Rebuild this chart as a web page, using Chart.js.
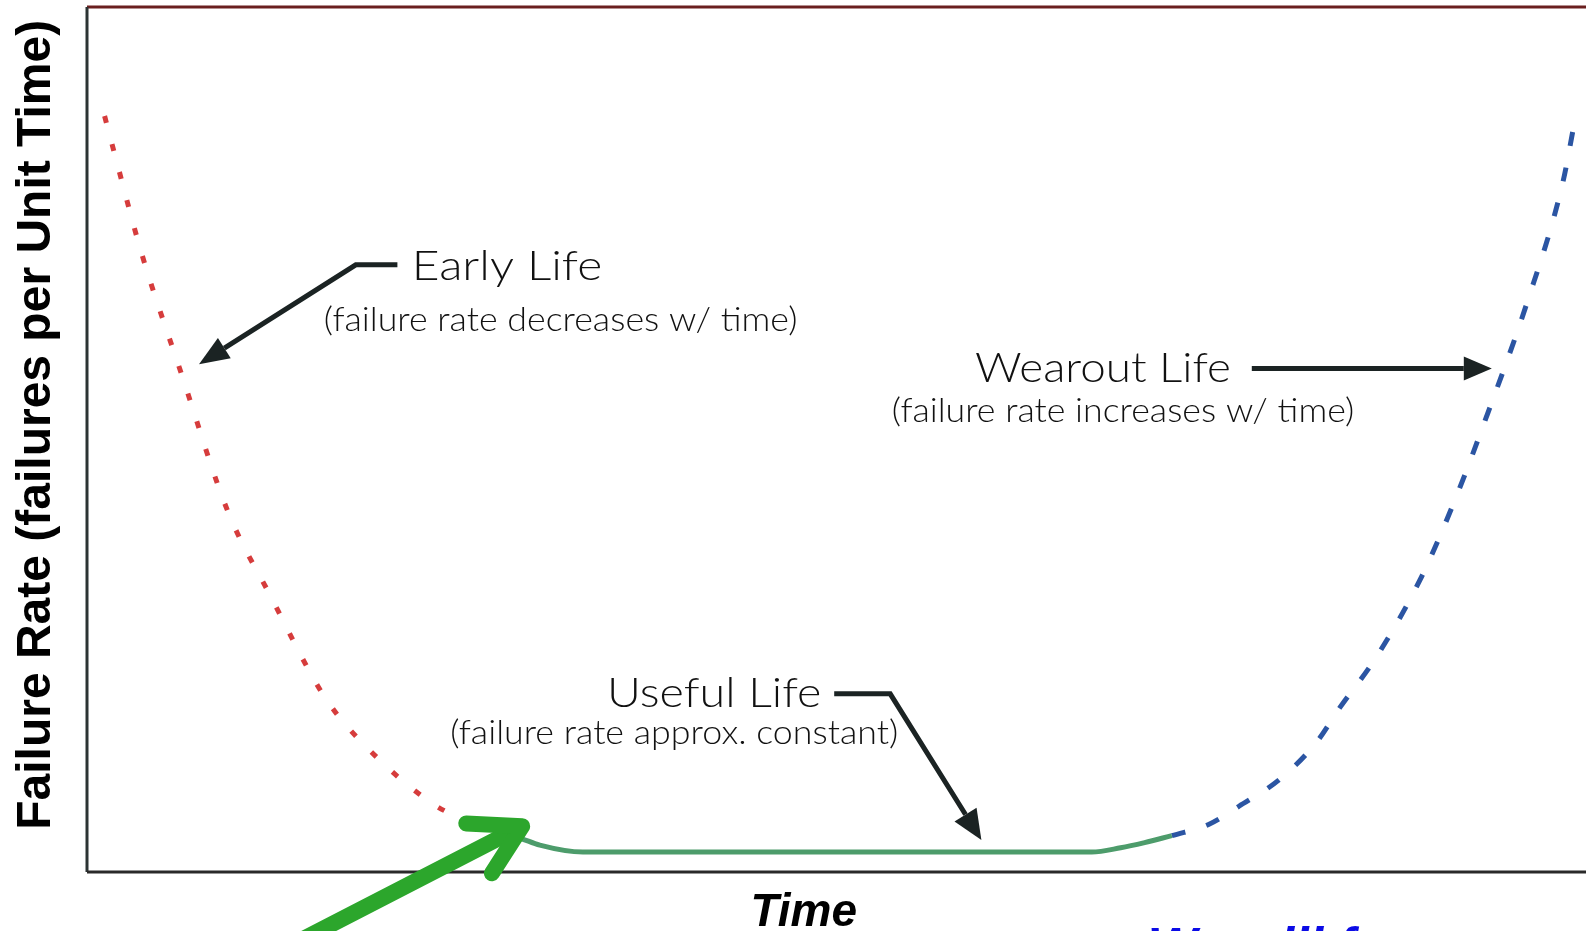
<!DOCTYPE html>
<html><head><meta charset="utf-8">
<script src="https://cdn.jsdelivr.net/npm/chart.js@4.4.1/dist/chart.umd.min.js"></script>
<style>
html,body{margin:0;padding:0;overflow:hidden;background:#fff;width:1586px;height:931px;}
#wrap{position:absolute;left:0;top:0;width:1700px;height:1000px;}
</style></head><body>
<div id="wrap"><canvas id="c" width="1700" height="1000"></canvas></div>
<script>
// ---- data (time and failure rate, arbitrary units 0-100) ----
const earlyTime  = [1.1, 1.7, 3.4, 5.9, 8.8, 11.5, 14.9, 17.6, 21.6, 23.9];
const earlyRate  = [87.4, 83.2, 71.6, 57.6, 41.7, 31.8, 20.1, 14.2, 7.9, 5.7];
const usefulTime = [23.9, 27.1, 28.3, 31.0, 62.8, 64.6, 66.1, 67.8];
const usefulRate = [5.7, 3.9, 3.1, 2.3, 2.3, 2.8, 3.4, 4.2];
const wearTime   = [67.8, 70.1, 72.0, 74.6, 76.8, 78.3, 80.6, 83.4, 85.6, 87.5, 90.0, 92.25, 92.9];
const wearRate   = [4.2, 5.5, 7.6, 10.8, 14.9, 19.0, 24.9, 34.1, 43.5, 52.8, 65.8, 79.8, 86.0];

const yTitle = "Failure Rate (failures per Unit Time)";
const xTitle = "Time";
const footText = "We will focus on";
const phaseNames = ["Early Life", "Useful Life", "Wearout Life"];
const phaseNotes = ["(failure rate decreases w/ time)", "(failure rate approx. constant)", "(failure rate increases w/ time)"];

function zip(a, b){ return a.map((v,i)=>({x:v, y:b[i]})); }

const annot = {
  id:'annot',
  afterDraw(chart){
    const ctx = chart.ctx, ca = chart.chartArea;
    const X = v => chart.scales.x.getPixelForValue(v);
    const Y = v => chart.scales.y.getPixelForValue(v);
    ctx.save();
    // frame
    ctx.lineCap = 'butt';
    ctx.lineWidth = 3;
    ctx.strokeStyle = '#6a1f1f';
    ctx.beginPath(); ctx.moveTo(ca.left, ca.top); ctx.lineTo(chart.width, ca.top); ctx.stroke();
    ctx.strokeStyle = '#2c3434';
    ctx.beginPath(); ctx.moveTo(ca.left, ca.top); ctx.lineTo(ca.left, ca.bottom); ctx.stroke();
    ctx.strokeStyle = '#2a2a2a';
    ctx.beginPath(); ctx.moveTo(ca.left, ca.bottom); ctx.lineTo(chart.width, ca.bottom); ctx.stroke();

    function text(t, x, y, wData, font, color){
      ctx.save(); ctx.font = font; ctx.fillStyle = color; ctx.textAlign = 'left'; ctx.textBaseline = 'alphabetic';
      const m = ctx.measureText(t).width;
      const s = wData ? (X(x + wData) - X(x)) / m : 1;
      ctx.translate(X(x), Y(y)); ctx.scale(s, 1); ctx.fillText(t, 0, 0); ctx.restore();
    }
    const big = '300 41px Lato, "DejaVu Sans", sans-serif';
    const small = '300 34px Lato, "DejaVu Sans", sans-serif';
    const ink = '#111';
    text(phaseNames[0], 20.3, 68.4, 11.9, big, ink);
    text(phaseNotes[0], 14.8, 62.6, 29.6, small, ink);
    text(phaseNames[2], 55.5, 56.6, 16.0, big, ink);
    text(phaseNotes[2], 50.3, 52.0, 28.9, small, ink);
    text(phaseNames[1], 32.5, 19.1, 13.4, big, ink);
    text(phaseNotes[1], 22.7, 14.8, 28.0, small, ink);

    function arrow(pts, w, color, hl, hw){
      const p = pts.map(q => [X(q[0]), Y(q[1])]);
      const n = p.length, a = p[n-2], b = p[n-1];
      const ang = Math.atan2(b[1]-a[1], b[0]-a[0]);
      const bx = b[0] - Math.cos(ang)*hl, by = b[1] - Math.sin(ang)*hl;
      ctx.strokeStyle = color; ctx.fillStyle = color; ctx.lineWidth = w; ctx.lineJoin = 'miter'; ctx.lineCap = 'butt';
      ctx.beginPath(); ctx.moveTo(p[0][0], p[0][1]);
      for (let i=1;i<n-1;i++) ctx.lineTo(p[i][0], p[i][1]);
      ctx.lineTo(bx, by); ctx.stroke();
      ctx.beginPath();
      ctx.moveTo(b[0], b[1]);
      ctx.lineTo(bx + Math.sin(ang)*hw, by - Math.cos(ang)*hw);
      ctx.lineTo(bx - Math.sin(ang)*hw, by + Math.cos(ang)*hw);
      ctx.closePath(); ctx.fill();
    }
    const arrowInk = '#1b2323';
    arrow([[19.4,70.2],[16.8,70.2],[7.0,58.7]], 5, arrowInk, 30, 12);
    arrow([[72.8,58.2],[87.8,58.2]], 5, arrowInk, 28, 12);
    arrow([[46.7,20.6],[50.2,20.6],[55.9,3.7]], 5, arrowInk, 30, 13);

    // green chevron arrow
    const g0 = [X(10.1), Y(-11.0)], g1 = [X(27.2), Y(5.3)];
    const ga = Math.atan2(g0[1]-g1[1], g0[0]-g1[0]);
    ctx.strokeStyle = '#2ca62c'; ctx.lineWidth = 16; ctx.lineCap = 'round'; ctx.lineJoin = 'round';
    ctx.beginPath(); ctx.moveTo(g0[0], g0[1]); ctx.lineTo(g1[0]+Math.cos(ga)*6, g1[1]+Math.sin(ga)*6); ctx.stroke();
    const hl = 56, sp = Math.PI/6;
    ctx.beginPath();
    ctx.moveTo(g1[0]+Math.cos(ga+sp)*hl, g1[1]+Math.sin(ga+sp)*hl);
    ctx.lineTo(g1[0], g1[1]);
    ctx.lineTo(g1[0]+Math.cos(ga-sp)*hl, g1[1]+Math.sin(ga-sp)*hl);
    ctx.stroke();

    // axis titles
    ctx.fillStyle = '#000';
    ctx.save();
    ctx.font = 'bold 48px "Liberation Sans", Arial, sans-serif';
    ctx.textAlign = 'center'; ctx.textBaseline = 'alphabetic';
    ctx.translate(X(-2.31), Y(51.7)); ctx.rotate(-Math.PI/2);
    ctx.fillText(yTitle, 0, 0);
    ctx.restore();
    ctx.font = 'italic bold 46px "Liberation Sans", Arial, sans-serif';
    ctx.textAlign = 'center';
    ctx.fillText(xTitle, X(44.8), Y(-6.24));
    ctx.fillStyle = '#0b0be6';
    ctx.font = 'italic bold 52px "Liberation Sans", Arial, sans-serif';
    ctx.textAlign = 'left';
    ctx.fillText(footText, X(66.3), Y(-10.6));
    ctx.restore();
  }
};

new Chart(document.getElementById('c'), {
  type: 'line',
  data: { datasets: [
    { label: phaseNames[0], data: zip(earlyTime, earlyRate), borderColor: '#d63c3c', borderWidth: 5,
      borderDash: [7, 22], pointRadius: 0, cubicInterpolationMode: 'monotone', fill: false },
    { label: phaseNames[1], data: zip(usefulTime, usefulRate), borderColor: '#4d9c6b', borderWidth: 5,
      pointRadius: 0, cubicInterpolationMode: 'monotone', fill: false },
    { label: phaseNames[2], data: zip(wearTime, wearRate), borderColor: '#2b55a3', borderWidth: 5,
      borderDash: [14, 22], pointRadius: 0, cubicInterpolationMode: 'monotone', fill: false }
  ]},
  options: {
    responsive: false, animation: false, devicePixelRatio: 1,
    layout: { padding: { left: 87, top: 7, right: 13, bottom: 128 } },
    scales: {
      x: { type: 'linear', min: 0, max: 100, display: false },
      y: { type: 'linear', min: 0, max: 100, display: false }
    },
    plugins: { legend: { display: false }, tooltip: { enabled: false } }
  },
  plugins: [annot]
});
</script>
</body></html>
